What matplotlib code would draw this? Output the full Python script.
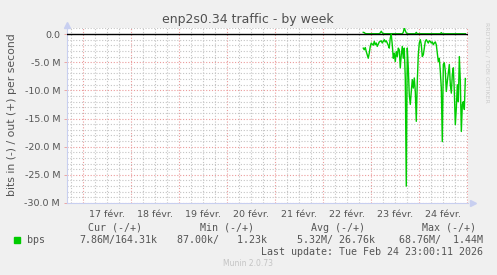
import matplotlib
matplotlib.use("Agg")
import matplotlib.pyplot as plt
import matplotlib.dates as mdates
import pandas as pd

W, H = 497, 275

title = "enp2s0.34 traffic - by week"
ylabel = "bits in (-) / out (+) per second"
day_labels = ["17 févr.", "18 févr.", "19 févr.", "20 févr.",
              "21 févr.", "22 févr.", "23 févr.", "24 févr."]
y_ticks = [0, -5, -10, -15, -20, -25, -30]
y_labels = ["0.0", "-5.0 M", "-10.0 M", "-15.0 M", "-20.0 M", "-25.0 M", "-30.0 M"]

# Mbit/s, one sample every 30 minutes from the start time
start = "2026-02-22 20:00"
bits_in = [2.5, 2.8, 2.4, 3.1, 3.7, 4.3, 3.4, 2.2, 1.6, 1.8,
           2.0, 1.3, 1.9, 1.6, 2.2, 1.8, 1.4, 1.3, 1.2, 1.6,
           1.3, 1.0, 1.4, 1.2, 1.6, 2.0, 2.5, 0.7, 0.1, 1.9,
           4.3, 3.4, 4.9, 3.1, 4.0, 2.5, 2.8, 6.0, 3.7, 2.2,
           4.3, 2.5, 7.8, 27.0, 2.5, 6.0, 10.8, 12.5, 10.2, 8.1,
           9.6, 7.8, 10.2, 15.5, 8.4, 3.7, 1.6, 1.0, 1.9, 4.0,
           3.7, 2.5, 1.3, 1.0, 1.3, 1.6, 1.2, 1.3, 1.6, 1.4,
           1.9, 1.6, 1.4, 1.9, 3.4, 4.9, 4.3, 6.6, 9.6, 19.1,
           5.4, 5.1, 6.6, 10.2, 8.4, 6.9, 5.4, 9.0, 10.5, 7.2,
           6.0, 10.2, 16.1, 13.1, 9.0, 12.0, 4.0, 8.4, 17.3, 12.5,
           12.0, 13.4, 7.9]
bits_out = [0.3, 0.25, 0.1, 0.05, 0.05, 0.05, 0.05, 0.05, 0.05, 0.05,
            0.05, 0.05, 0.05, 0.05, 0.05, 0.05, 0.05, 0.2, 0.5, 0.2,
            0.05, 0.05, 0.05, 0.05, 0.05, 0.05, 0.05, 0.05, 0.05, 0.05,
            0.05, 0.05, 0.05, 0.05, 0.05, 0.05, 0.05, 0.05, 0.05, 0.05,
            0.3, 1.1, 0.6, 0.2, 0.05, 0.05, 0.05, 0.05, 0.05, 0.05,
            0.05, 0.05, 0.05, 0.3, 0.05, 0.05, 0.05, 0.05, 0.05, 0.05,
            0.05, 0.05, 0.05, 0.05, 0.05, 0.05, 0.05, 0.05, 0.05, 0.05,
            0.05, 0.05, 0.05, 0.05, 0.05, 0.05, 0.05, 0.05, 0.25, 0.05,
            0.05, 0.05, 0.05, 0.05, 0.05, 0.05, 0.05, 0.05, 0.05, 0.05,
            0.05, 0.05, 0.05, 0.05, 0.05, 0.05, 0.05, 0.05, 0.05, 0.05,
            0.05, 0.05, 0.05]
times = pd.date_range(start, periods=len(bits_in), freq="30min")

legend_head = ["Cur (-/+)", "Min (-/+)", "Avg (-/+)", "Max (-/+)"]
legend_vals = ["7.86M/164.31k", "87.00k/   1.23k", "5.32M/ 26.76k", "68.76M/  1.44M"]
last_update = "Last update: Tue Feb 24 23:00:11 2026"

x_start = pd.Timestamp("2026-02-16 16:00")
x_end = pd.Timestamp("2026-02-25 00:20")

bg = "#f0f0f0"
txt = "#555555"
green = "#00cc00"
axis_col = "#c8cff0"
minor_col = "#c4c4c4"
major_col = "#eb9b9b"

fig = plt.figure(figsize=(W / 100, H / 100), dpi=100, facecolor=bg)
ax = fig.add_axes([67 / W, 1 - 203 / H, (468 - 67) / W, (203 - 28.4) / H])
ax.set_facecolor("white")
ax.set_xlim(mdates.date2num(x_start), mdates.date2num(x_end))
ax.set_ylim(-30, 1.0)

# grid: red dotted every day / 5 M, grey dotted every 6 h / 1 M
for t in pd.date_range("2026-02-16 18:00", x_end, freq="6h"):
    major = t.hour == 0
    ax.axvline(mdates.date2num(t), color=major_col if major else minor_col,
               lw=0.8, dashes=(1, 1.6), zorder=1)
for v in range(-30, 2):
    if v == 0:
        continue
    major = v % 5 == 0
    ax.axhline(v, color=major_col if major else minor_col,
               lw=0.8, dashes=(1, 1.6), zorder=1)

tnum = mdates.date2num(times)
ax.plot(tnum, bits_out, color=green, lw=1.0, zorder=2)
ax.axhline(0, color="black", lw=1.0, zorder=3)
ax.plot(tnum, [-v for v in bits_in], color=green, lw=1.0, zorder=4)

for s in ["top", "right"]:
    ax.spines[s].set_visible(False)
ax.spines["left"].set_color(axis_col)
ax.spines["bottom"].set_color(axis_col)
ax.spines["left"].set_linewidth(0.8)
ax.spines["bottom"].set_linewidth(0.8)
ax.plot([0], [1.02], marker="^", ms=4, color=axis_col, transform=ax.transAxes, clip_on=False)
ax.plot([1.012], [0], marker=">", ms=4, color=axis_col, transform=ax.transAxes, clip_on=False)

ax.set_yticks(y_ticks)
ax.set_yticklabels(y_labels)
ax.set_xticks(mdates.date2num(pd.date_range("2026-02-17 12:00", periods=len(day_labels), freq="D")))
ax.set_xticklabels(day_labels)
ax.tick_params(axis="both", length=2, width=0.6, color=major_col,
               labelsize=6.8, labelcolor=txt, pad=3)
ax.tick_params(axis="x", length=0, pad=5)

fig.text(248 / W, 1 - 19 / H, title, ha="center", va="center", fontsize=9, color="#505050")
fig.text(12 / W, 1 - 115 / H, ylabel, ha="center", va="center", rotation=90,
         fontsize=7.8, color=txt)
fig.text(487 / W, 1 - 22 / H, "RRDTOOL / TOBI OETIKER", ha="center", va="top",
         rotation=270, fontsize=4.5, color="#cccccc")

mono = "DejaVu Sans Mono"
head_right = [142, 254, 365, 476]
val_right = [157, 267, 375, 483]
for h, x in zip(legend_head, head_right):
    fig.text(x / W, 1 - 227.7 / H, h, ha="right", va="center", family=mono,
             fontsize=7.2, color=txt)
for v, x in zip(legend_vals, val_right):
    fig.text(x / W, 1 - 240 / H, v, ha="right", va="center", family=mono,
             fontsize=7.2, color=txt)
fig.patches.append(plt.Rectangle((14 / W, 1 - 243 / H), 6 / W, 6 / H,
                                 transform=fig.transFigure, color=green))
fig.text(27 / W, 1 - 240 / H, "bps", ha="left", va="center", family=mono,
         fontsize=7.2, color=txt)
fig.text(483 / W, 1 - 251.7 / H, last_update, ha="right", va="center", family=mono,
         fontsize=7.2, color=txt)
fig.text(248 / W, 1 - 264 / H, "Munin 2.0.73", ha="center", va="center",
         fontsize=5.5, color="#c4c4c4")

fig.savefig("out.png", dpi=100, facecolor=bg)
